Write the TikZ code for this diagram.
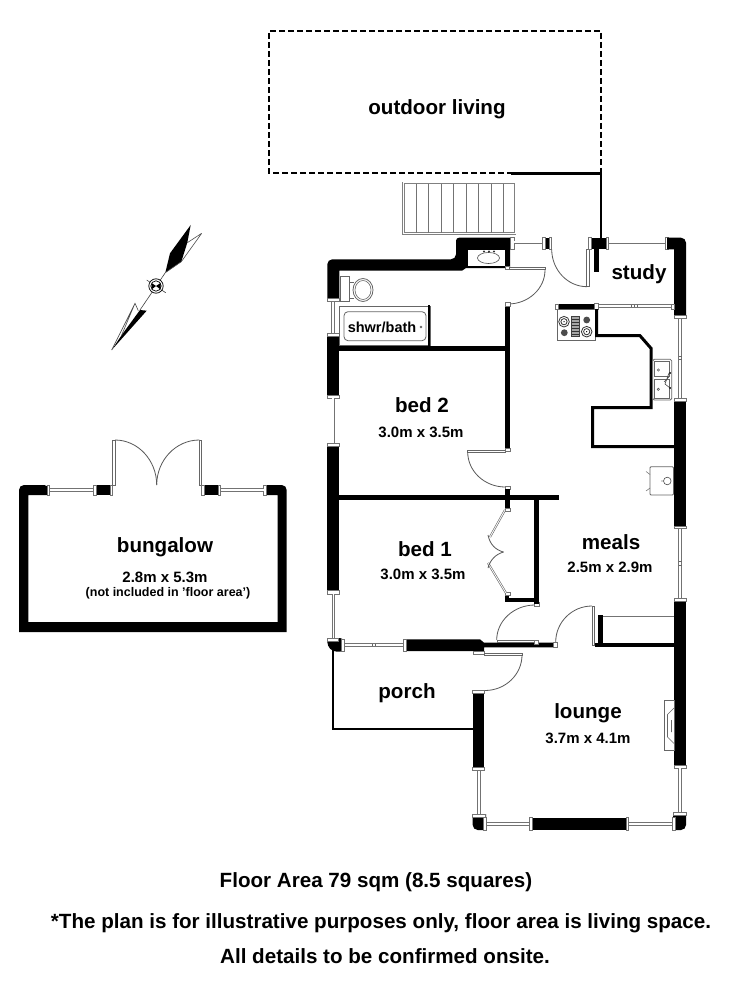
\documentclass[tikz,border=0pt]{standalone}
\usepackage{fontspec}
\setmainfont{Liberation Sans}
\usetikzlibrary{calc}
\tikzset{
  wl/.style={draw=black,line width=#1,line cap=butt},
  wl/.default=4.5pt,
  capbox/.style={fill=white,draw=black!55,line width=.7pt},
  winl/.style={draw=black!55,line width=.8pt,double=white,double distance=1.7pt},
  leafbox/.style={fill=white,draw=black!60,line width=.8pt},
  swing/.style={draw=black!65,line width=.8pt},
  fix/.style={draw=black!60,line width=.8pt,fill=white},
  fixk/.style={draw=black,line width=.8pt},
  title/.style={font=\bfseries\fontsize{20.6}{24}\selectfont,inner sep=0pt},
  dims/.style={font=\bfseries\fontsize{15}{17}\selectfont,inner sep=0pt},
  foot/.style={font=\bfseries\fontsize{20.6}{24}\selectfont,inner sep=0pt},
}
\newcommand{\doorarc}[3]{\draw[swing] (#1) .. controls ($(#1)!0.55!(#2)$) and ($(#3)!0.55!(#2)$) .. (#3);}
\newcommand{\wcap}[4]{\draw[capbox] (#1,#2) rectangle (#3,#4);}
\newcommand{\wblock}[4]{\fill[black] (#1,#2) rectangle (#3,#4);}
\newcommand{\dleaf}[4]{\draw[leafbox] (#1,#2) rectangle (#3,#4);}
\begin{document}
\begin{tikzpicture}[x=1pt,y=-1pt]
\useasboundingbox[fill=white] (0,0) rectangle (750,1000);

% outdoor living
\draw[line width=2pt,dash pattern=on 6pt off 3pt] (513,173) -- (269,173) -- (269,31) -- (601,31) -- (601,173);
\draw[line width=2.2pt] (511,173.5) -- (601,173.5) -- (601,238);

% stairs
\draw[draw=black!50,line width=.7pt,double=white,double distance=1pt] (403.5,183) rectangle (515,233.5);
\foreach \sx in {416,428.5,441,453.5,466,478.5,491,503}{\draw[black!55,line width=.8pt] (\sx,184) -- (\sx,233);}

% top walls
\fill[black] (327.3,298) -- (327.3,265) [rounded corners=5pt] -- (327.3,259.3) -- (456,259.3) [sharp corners] -- (456,259.3) -- (456,243) [rounded corners=3pt] -- (456,237.7) -- (470,237.7) [sharp corners] -- (510,237.7) -- (510,268) -- (466,268) -- (462,270.7) -- (339.3,270.7) -- (339.3,298) -- cycle;
\draw[fixk,fill=white] (467.7,249.3) rectangle (505,266.3);
\draw[black!70,line width=.6pt] (488.5,258) ellipse [x radius=11,y radius=5.5];
\fill[black!80] (484,251.5) circle (1.1) (489,251.5) circle (1.1) (494,251.5) circle (1.1);
\wcap{510.5}{237.7}{514}{249}
\draw[winl] (514.3,242.3) -- (542.7,242.3);
\wblock{542.7}{237.7}{551.7}{249.3}
\wcap{542.7}{237.7}{545.5}{249.3}
\wcap{549}{237.7}{551.7}{249.3}
\dleaf{586.8}{249.3}{589}{286.7}
\doorarc{551.7,249.3}{551.7,286.7}{587,286.7}
\wblock{588.7}{237.7}{608.7}{249.3}
\wcap{588.7}{237.7}{591.5}{249.3}
\wcap{606}{237.7}{608.7}{249.3}
\wblock{593.5}{249}{598.5}{271.7}
\draw[winl] (609,242.3) -- (665,242.3);
\wcap{665}{237.7}{668}{249.3}
\fill[black] (667,237.7) [rounded corners=5pt] -- (686,237.7) [sharp corners] -- (686,318.3) -- (674,318.3) -- (674,249.3) -- (667,249.3) -- cycle;
\wcap{674}{315.5}{686}{318.5}

% right side
\draw[winl] (680,318.5) -- (680,398.3);
\wblock{674}{398.3}{686}{528.3}
\wcap{674}{398.3}{686}{401}
\wcap{674}{526}{686}{528.6}
\draw[winl] (680,528.6) -- (680,598.3);
\wblock{674}{598.3}{686}{765}
\wcap{674}{598.3}{686}{601}
\wcap{674}{765}{686}{768}
\draw[winl] (680,768) -- (680,813);
\fill[black] (673,812) -- (686,812) [rounded corners=5pt] -- (686,830) [sharp corners] -- (673,830) -- cycle;
\wcap{673}{812}{686}{815.5}
\wcap{672}{817.5}{675}{830}
\draw[winl] (628.5,824) -- (672,824);
\wblock{529}{817.7}{628.5}{830}
\wcap{529}{817.7}{532}{830}
\wcap{626}{817.7}{628.5}{830}
\draw[winl] (486.7,824) -- (529,824);
\fill[black] (486,814) -- (486,830) [rounded corners=5pt] -- (472.7,830) [sharp corners] -- (472.7,814) -- cycle;
\wcap{472.7}{814}{485.5}{817}
\wcap{483.5}{817.5}{486.5}{830}
\draw[winl] (479,770) -- (479,814);
\wblock{472.7}{690}{484.3}{770}
\wcap{472.7}{690}{484.3}{693}
\wcap{472.7}{767.5}{484.3}{770.3}

% porch
\draw[line width=1.8pt] (472.7,729) -- (333.3,729) -- (333.3,650);

% left side
\wcap{327.3}{298}{339.3}{301.5}
\draw[winl] (333,301.5) -- (333,333.3);
\wblock{327.3}{333.3}{339.3}{398.3}
\wcap{327.3}{333.3}{339.3}{336.5}
\wcap{327.3}{395.5}{339.3}{398.3}
\draw[winl] (333.3,398.3) -- (333.3,443.3);
\wblock{327.3}{443.3}{339.3}{593.3}
\wcap{327.3}{443.3}{339.3}{446.5}
\wcap{327.3}{590.5}{339.3}{594}
\draw[winl] (333.5,594) -- (333.5,638);
\fill[black,rounded corners=4pt] (327.3,638) -- (344,638) -- (344,651.7) -- (333,651.7) -- (327.3,646) -- cycle;
\wcap{327.3}{638}{338}{641}
\wcap{341}{639}{344.5}{651}

% front wall
\draw[winl] (345,645) -- (403.3,645);
\fill[black] (403.3,639.3) -- (480,639.3) -- (484,642.7) -- (556.7,642.7) -- (556.7,647.3) -- (484,647.3) -- (484,651) -- (403.3,651) -- cycle;
\wcap{403.3}{639.3}{406.5}{651}
\wcap{473}{651}{484}{654}
\dleaf{484}{653}{522}{655}
\doorarc{522,655}{522,690.5}{485,690.5}
\dleaf{497}{640}{535}{642}
\doorarc{496.7,640}{496.7,605}{535,605}
\wcap{534}{640.5}{538}{644}
\wcap{553.5}{642.5}{557}{647.3}
\wcap{534.5}{602}{539}{606}
\dleaf{592}{606}{594}{645}
\doorarc{555.7,642}{555.7,606}{592,606}
\wblock{598}{615}{603}{645}
\draw[black!55,line width=.8pt] (603,616) -- (674,616);
\draw[wl] (595,645) -- (674,645);

% bathroom
\draw[fix,line width=.9pt] (339.5,306.7) rectangle (430,345.5);
\draw[fix,rounded corners=4pt] (344,311.7) rectangle (426,340.7);
\fill[black!60] (421,327) circle (1.3);
\draw[wl=2.5pt] (429,305) -- (429,347);
\draw[wl] (339,348.3) -- (509.5,348.3);
\draw[wl] (507.3,304) -- (507.3,450);
\draw[fix] (340,276) rectangle (349,301.7);
\draw[fix] (349,282) -- (354,282) (349,298) -- (354,298);
\draw[fix] (363,290) ellipse [x radius=10,y radius=11.5];
\draw[black!60,line width=.6pt] (363,290) ellipse [x radius=8,y radius=9.5];
\wcap{505.5}{266.3}{509.5}{269}
\dleaf{509}{267.3}{545}{269.5}
\doorarc{545,270}{545,304}{508,304}
\wcap{505.5}{302}{510}{306}

% bed door
\dleaf{467.7}{450}{505.3}{452}
\doorarc{467.7,452}{467.7,487}{505.3,487}
\wcap{505}{448}{510}{451.5}
\wcap{505}{486}{510}{489}
\draw[wl] (339,497.3) -- (559.3,497.3);
\draw[wl] (507.3,489) -- (507.3,510);
\wcap{505}{508}{510}{511}

% closet
\draw[wl] (536.7,497) -- (536.7,604);
\draw[wl] (505,600) -- (539,600);
\draw[wl] (507,593) -- (507,602);
\wcap{505}{592}{510}{595}
\draw[black!60,line width=2pt] (505,510) -- (490,537);
\draw[white,line width=.8pt] (505,510) -- (490,537);
\draw[black!60,line width=2pt] (506,593) -- (488,563);
\draw[white,line width=.8pt] (506,593) -- (488,563);
\draw[swing] (488,535) .. controls (490,545) and (496,550) .. (503.5,552);
\draw[swing] (488,568) .. controls (490,560) and (496,554) .. (503.5,552);

% kitchen
\draw[fixk,draw=black!60,fill=white] (557,309) rectangle (595,340);
\fill[black] (556,304.3) rectangle (595,309);
\wcap{555}{304}{558}{309}
\wcap{594}{303.5}{598.5}{309}
\foreach \bx/\by/\br in {564/321.7/5.3,586.7/331.7/5.3}{
  \draw[black!80,line width=.8pt] (\bx,\by) circle (\br) (\bx,\by) circle (\br-2.2);
  \fill[black] (\bx,\by) circle (.7);
}
\fill[black!70] (586.7,320) circle (3.4) (564.3,332.7) circle (3.4);
\draw[black!75,fill=black!35,line width=.6pt] (571.7,316.7) rectangle (579.3,336.7);
\foreach \gy in {319,322,325,328,331,334}{\draw[black!80,line width=.5pt] (571.7,\gy) -- (579.3,\gy);}
\draw[winl] (598.5,306) -- (672,306);
\wcap{671.5}{304}{674.5}{309}
\draw[line width=3pt,line join=miter] (596.5,309) -- (596.5,335.7) -- (640,335.7) -- (651,348.3) -- (651,407.7) -- (592.7,407.7) -- (592.7,446.7) -- (674,446.7);

% sink
\draw[fix,rounded corners=1.5pt] (652.7,359.3) rectangle (671.7,400);
\draw[fix] (654.7,361.5) rectangle (669,376.8);
\draw[fix] (654.7,379.5) rectangle (669,398);
\draw[black!70,fill=white,line width=.5pt] (658.3,370) circle (1.2) (658.3,389.3) circle (1.2);
\draw[black!70,line width=.6pt] (669,373) -- (665,384) -- (670,388) (664,382) -- (669,377);
\fill[black] (670,373) circle (1) (670,388) circle (1);

% basin on wall
\draw[fix,rounded corners=1pt] (650,466.7) rectangle (673.5,495);
\draw[black!70,fill=white,line width=.6pt] (667.3,481) circle (3.8);
\draw[black!60,line width=.5pt] (646,471.5) -- (650,474.5) (646,491) -- (650,488);
\fill[black!70] (662,481) circle (.7);

% fireplace
\draw[fix] (664,700.7) rectangle (674.3,750);
\draw[black!60,line width=.6pt] (674,708) -- (667.5,714.5) -- (667.5,737) -- (674,743.5) (671.5,720) -- (671.5,732);

% window mullions
\foreach \mx in {631,634,637}{\draw[black!60,line width=.5pt] (\mx,304.8) -- (\mx,307.2);}
\foreach \my in {356,359}{\draw[black!60,line width=.5pt] (678.5,\my) -- (681.5,\my);}
\foreach \my in {561,565}{\draw[black!60,line width=.5pt] (678.5,\my) -- (681.5,\my);}
\foreach \mx in {372,375}{\draw[black!60,line width=.5pt] (\mx,643.8) -- (\mx,646.2);}

% bungalow
\fill[black] (19,632) -- (19,492) [rounded corners=5pt] -- (19,485) -- (49.3,485) [sharp corners] -- (49.3,495) -- (28.3,495) -- (28.3,622) -- (277.7,622) -- (277.7,495) -- (265,495) -- (265,485) [rounded corners=5pt] -- (286.7,485) [sharp corners] -- (286.7,632) -- cycle;
\wcap{47}{485}{49.8}{495}
\wcap{263.5}{485}{266}{495}
\draw[winl] (50,490) -- (93.3,490);
\wblock{93.3}{485}{112.7}{495}
\wcap{93.3}{485}{96}{495}
\wcap{110}{485}{112.7}{495}
\dleaf{112.7}{440}{115}{485}
\doorarc{115,440}{156.7,440}{156.7,485}
\dleaf{199.3}{440}{201.7}{485}
\doorarc{199.3,440}{156.7,440}{156.7,485}
\wblock{201.7}{485}{220.7}{495}
\wcap{201.7}{485}{204.5}{495}
\wcap{218}{485}{220.7}{495}
\draw[winl] (220.7,490) -- (263.5,490);

% compass
\fill[black] (190.7,225) -- (187.3,242.7) -- (181.3,261.7) -- (165.3,272.7) -- (170,253.3) -- cycle;
\draw[black!70,line width=.6pt] (201.7,233.3) -- (187.3,242.7) (201.7,233.3) -- (181.3,261.7) -- (165.3,272.7);
\fill[black] (111.7,350) -- (146.7,310.7) -- (140,310) -- (121.7,335) -- cycle;
\draw[black!70,line width=.6pt] (111.7,350) -- (135,303.3) -- (138.3,310.7) (135,303.3) -- (121.7,335);
\draw[black!75,line width=.6pt] (165.3,272.7) -- (140,310);
\draw[black!75,line width=.6pt] (146.7,280) -- (165.7,292.7);
\draw[fill=white,line width=.7pt] (156,286) circle (7.2);
\draw[line width=.7pt] (156,286) circle (5.2);
\fill[black] (151.5,283) -- (156,286) -- (160.5,283) -- (160.5,289.5) -- (156,286) -- (151.5,289.5) -- cycle;

% labels
\node[title] (outdoor) at (437,109) {outdoor living};
\node[title] (study) at (639,274) {study};
\node[title] (bedtwo) at (422,405) {bed 2};
\node[dims] (bedtwodim) at (421,432.5) {3.0m x 3.5m};
\node[title] (bedone) at (425,549) {bed 1};
\node[dims] (bedonedim) at (423,574.5) {3.0m x 3.5m};
\node[title] (meals) at (611,542) {meals};
\node[dims] (mealsdim) at (610,567.5) {2.5m x 2.9m};
\node[title] (bungalow) at (165,547) {bungalow};
\node[dims] (bungalowdim) at (165,577.5) {2.8m x 5.3m};
\node[font=\bfseries\fontsize{12.5}{14}\selectfont,inner sep=0pt] (notincl) at (168,593) {(not included in 'floor area')};
\node[title] (porch) at (407,693) {porch};
\node[title] (lounge) at (588,713) {lounge};
\node[dims] (loungedim) at (588,738.5) {3.7m x 4.1m};
\node[font=\bfseries\fontsize{14.5}{17}\selectfont,inner sep=0pt] (bath) at (382,327) {shwr/bath};
\node[foot] (floorarea) at (376,882) {Floor Area 79 sqm (8.5 squares)};
\node[foot] (plannote) at (381,923) {*The plan is for illustrative purposes only, floor area is living space.};
\node[foot] (details) at (385,956) {All details to be confirmed onsite.};
\end{tikzpicture}
\end{document}
